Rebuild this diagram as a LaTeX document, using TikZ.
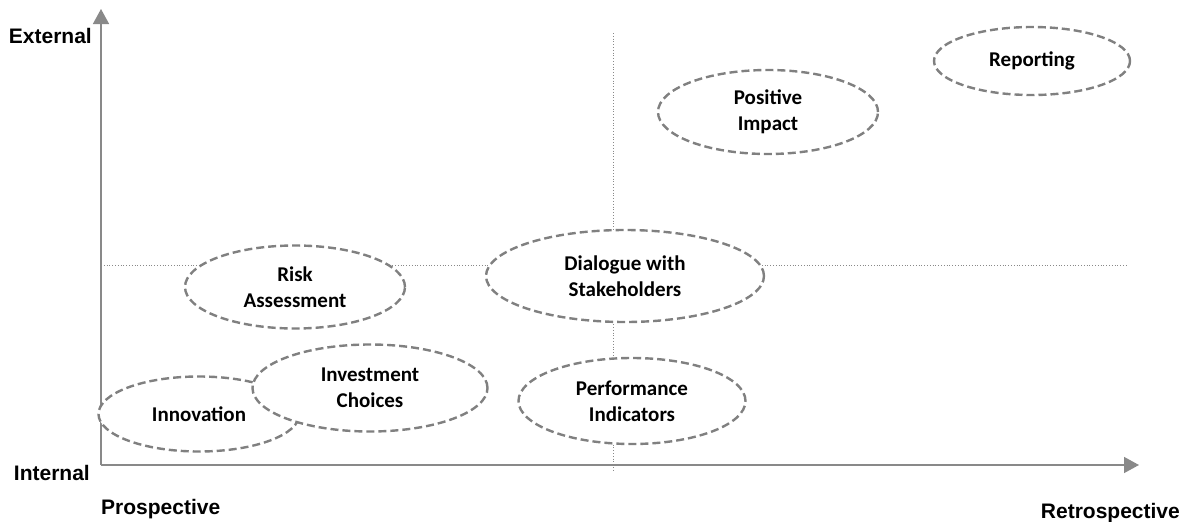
\documentclass[tikz,border=0pt]{standalone}
\usepackage{fontspec}
\setmainfont{Carlito}
\newfontfamily\axisfont{Liberation Sans}
\usetikzlibrary{positioning,shapes.geometric,arrows.meta}

\definecolor{axisgray}{HTML}{898989}
\definecolor{ringgray}{HTML}{808080}

\begin{document}
\begin{tikzpicture}[x=1pt, y=-1pt,
    topic/.style={ellipse, draw=ringgray, fill=white, line width=2.4pt, dash pattern=on 8pt off 4pt,
        inner sep=0pt, align=center, font=\fontsize{21}{26}\selectfont\bfseries},
    axislabel/.style={inner sep=0pt, font=\fontsize{21}{24}\axisfont\bfseries},
    axisline/.style={draw=axisgray, line width=1.5pt, -{Triangle[length=15pt, width=16pt]}},
    guide/.style={draw=axisgray, line width=0.8pt, dotted}]

\useasboundingbox (0,0) rectangle (1184,522);

% axes
\coordinate (origin) at (101,465);
\coordinate (ytip) at (101,9);
\coordinate (xtip) at (1139,465);
\draw [axisline] (origin) -- (ytip);
\draw [axisline] (origin) -- (xtip);

% quadrant guides
\coordinate (hleft) at (101,265);
\coordinate (hright) at (1128,265);
\coordinate (vtop) at (613,33);
\coordinate (vbottom) at (613,471);
\draw [guide] (hleft) -- (hright);
\draw [guide] (vtop) -- (vbottom);

% axis labels
\node [axislabel, anchor=base east] (external) at (92,43) {External};
\node [axislabel, anchor=base east] (internal) at (90,480) {Internal};
\node [axislabel, anchor=base west] (prospective) at (101,514) {Prospective};
\node [axislabel, anchor=base east] (retrospective) at (1180,518) {Retrospective};

% topics
\node [topic, minimum width=196pt, minimum height=68pt] (reporting) at (1032,61) {Reporting};
\node [topic, minimum width=220pt, minimum height=84pt] (impact) at (768,112) {Positive\\Impact};
\node [topic, minimum width=278pt, minimum height=92pt] (dialogue) at (625,276) {Dialogue with\\Stakeholders};
\node [topic, minimum width=220pt, minimum height=83pt] (risk) at (295,287) {Risk\\Assessment};
\node [topic, minimum width=227pt, minimum height=86pt] (performance) at (632,401) {Performance\\Indicators};
\node [topic, minimum width=201pt, minimum height=75pt] (innovation) at (199,414) {Innovation};
\node [topic, minimum width=235pt, minimum height=87pt] (investment) at (370,388) {Investment\\Choices};

\end{tikzpicture}
\end{document}
